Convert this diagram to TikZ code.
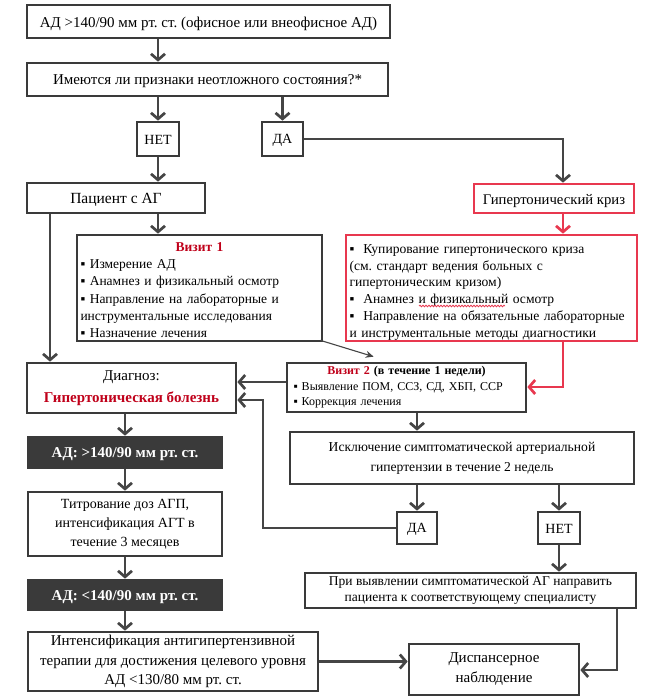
\documentclass[tikz,border=0pt]{standalone}
\usepackage{fontspec}
\setmainfont{Liberation Serif}
\usetikzlibrary{arrows.meta,calc,decorations.pathmorphing}
\definecolor{bord}{HTML}{3A3A3A}
\definecolor{arrc}{HTML}{454545}
\definecolor{redb}{HTML}{E8384F}
\definecolor{redt}{HTML}{C0001A}
\definecolor{darkf}{HTML}{3A3A3A}
\frenchspacing
\newcommand\bx[7]{\node[#6, minimum width={#4-#2}, minimum height={#5-#3}] (#1) at ({(#2+#4)/2},{(#3+#5)/2}) {#7};}
\tikzset{
  box/.style={draw=bord, line width=2.7pt, inner sep=0pt, align=center, font=\fontsize{15}{18}\selectfont},
  redbox/.style={box, draw=redb},
  darkbox/.style={box, fill=darkf, text=white, font=\fontsize{15}{18}\selectfont\bfseries},
  arr/.style={draw=arrc, line width=2.7pt, -{Straight Barb[length=6pt,width=14pt]}},
  redarr/.style={arr, draw=redb},
  thinarr/.style={draw=arrc, line width=1.1pt, -{Stealth[length=8pt,width=7pt]}},
  yn/.style={box, font=\fontsize{14}{16}\selectfont},
  dn/.style={execute at begin node={\rule{0pt}{#1pt}}},
  wavy/.style={draw=redb, line width=0.8pt, decorate, decoration={snake, amplitude=0.8pt, segment length=3pt}}
}
\begin{document}
\begin{tikzpicture}[x=1pt,y=-1pt]
\useasboundingbox[fill=white] (0,0) rectangle (651,698);
\bx{b1}{27}{5}{390}{38}{box,dn=14.5}{АД >140/90 мм рт. ст. (офисное или внеофисное АД)}
\bx{b2}{27}{63}{388}{96}{box,dn=12.5}{Имеются ли признаки неотложного состояния?*}
\bx{net}{137}{122}{179}{156}{yn,dn=11.5}{НЕТ}
\bx{da}{262}{122}{303}{156}{yn,dn=11.5}{ДА}
\bx{pac}{27}{183}{205}{213}{box,dn=14.5,font=\fontsize{15.5}{18}\selectfont}{Пациент с АГ}
\bx{kriz}{474}{184}{634}{213}{redbox,dn=16,font=\fontsize{14.7}{18}\selectfont}{Гипертонический криз}
\bx{v1}{77}{235}{322}{341}{box,align=left,text width=238pt,font=\fontsize{13.5}{17.2}\selectfont}{\rule{0pt}{13pt}\hfill{\color{redt}\bfseries Визит 1}\hfill\hbox{}\\
▪ Измерение АД\\
▪ Анамнез и физикальный осмотр\\
▪ Направление на лабораторные и\\
инструментальные исследования\\
▪ Назначение лечения}
\bx{rb}{346}{235}{637}{341}{redbox,align=left,text width=284pt,font=\fontsize{13.6}{16.8}\selectfont}{\rule{0pt}{17.5pt}▪\ \ Купирование гипертонического криза\\
(см. стандарт ведения больных с\\
гипертоническим кризом)\\
▪\ \ Анамнез и физикальный осмотр\\
▪\ \ Направление на обязательные лабораторные\\
и инструментальные методы диагностики}
\bx{v2}{287}{363}{526}{412}{box,align=left,text width=226pt,font=\fontsize{12}{15.5}\selectfont}{\hfill{\bfseries{\color{redt}Визит 2} (в течение 1 недели)}\hfill\hbox{}\\
▪ Выявление ПОМ, ССЗ, СД, ХБП, ССР\\
▪ Коррекция лечения}
\bx{diag}{27}{363}{236}{413}{box,dn=16,font=\fontsize{15}{22}\selectfont}{Диагноз:\\{\color{redt}\bfseries Гипертоническая болезнь}}
\bx{dk1}{28}{437}{222}{468}{darkbox,dn=14}{АД: >140/90 мм рт. ст.}
\bx{tit}{28}{492}{222}{556}{box,font=\fontsize{14}{19}\selectfont}{Титрование доз АГП,\\интенсификация АГТ в\\течение 3 месяцев}
\bx{dk2}{28}{580}{222}{610}{darkbox,dn=14}{АД: <140/90 мм рт. ст.}
\bx{int}{28}{632}{318}{691}{box,font=\fontsize{15}{19.5}\selectfont}{Интенсификация антигипертензивной\\терапии для достижения целевого уровня\\АД <130/80 мм рт. ст.}
\bx{disp}{409}{644}{579}{695}{box,dn=15,font=\fontsize{15}{20}\selectfont}{Диспансерное\\наблюдение}
\bx{isk}{290}{432}{634}{484}{box,font=\fontsize{13.6}{20}\selectfont}{Исключение симптоматической артериальной\\гипертензии в течение 2 недель}
\bx{da2}{397}{512}{437}{544}{yn,dn=11.5}{ДА}
\bx{net2}{538}{512}{580}{544}{yn,dn=11.5}{НЕТ}
\bx{pri}{305}{573}{636}{608}{box,dn=15.5,font=\fontsize{13.5}{16}\selectfont}{При выявлении симптоматической АГ направить\\пациента к соответствующему специалисту}
\coordinate (kx) at (563,0);
\coordinate (px) at (50,0);
\coordinate (lx) at (125,0);
\coordinate (dx) at (263,0);
\coordinate (rx) at (617,0);
% spell-check wave
\draw[wavy] (419,306) -- (505,306);
% connectors
\draw[arr] (net |- b1.south) -- (net |- b2.north);
\draw[arr] (net |- b2.south) -- (net.north);
\draw[arr] (da |- b2.south) -- (da.north);
\draw[arr] (da.east) -| (kx |- kriz.north);
\draw[arr] (net.south) -- (net |- pac.north);
\draw[arr] (net |- pac.south) -- (net |- v1.north);
\draw[arr] (px |- pac.south) -- (px |- diag.north);
\draw[redarr] (kx |- kriz.south) -- (kx |- rb.north);
\draw[redarr] (kx |- rb.south) -- (kx |- 0,387) -- (v2.east |- 0,387);
\draw[thinarr] ([xshift=-3pt,yshift=2pt]v1.south east) -- ($(v2.north west)+(88,-5)$);
\draw[arr] (v2.west |- 0,382) -- (diag.east |- 0,382);
\draw[arr] (da2.west) -| (dx |- 0,400) -- (diag.east |- 0,400);
\draw[arr] (lx |- diag.south) -- (lx |- dk1.north);
\draw[arr] (lx |- dk1.south) -- (lx |- tit.north);
\draw[arr] (lx |- tit.south) -- (lx |- dk2.north);
\draw[arr] (lx |- dk2.south) -- (lx |- int.north);
\draw[arr] (int.east) -- (int.east -| disp.west);
\draw[arr] (da2 |- v2.south) -- (da2 |- isk.north);
\draw[arr] (da2 |- isk.south) -- (da2.north);
\draw[arr] (net2 |- isk.south) -- (net2.north);
\draw[arr] (net2.south) -- (net2 |- pri.north);
\draw[arr] (rx |- pri.south) -- (rx |- 0,670) -- (disp.east |- 0,670);
\end{tikzpicture}
\end{document}
